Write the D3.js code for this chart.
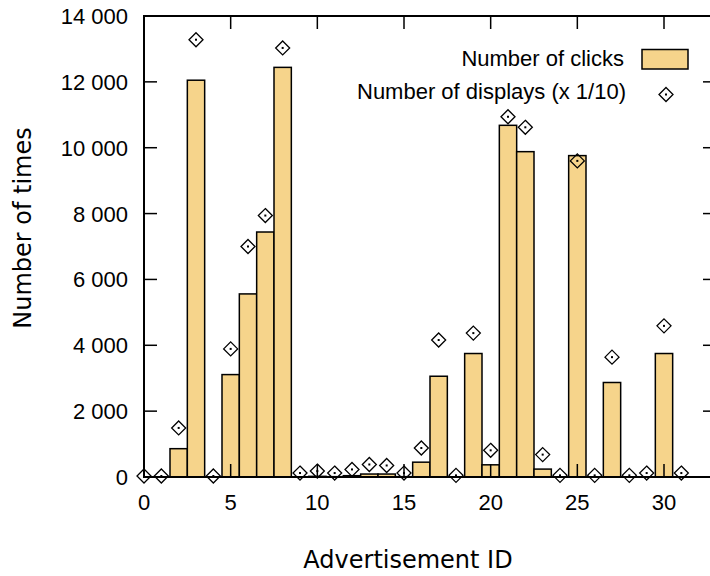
<!DOCTYPE html>
<html>
<head>
<meta charset="utf-8">
<script src="https://cdn.jsdelivr.net/npm/d3@7"></script>
<style>
    body { margin: 0; background: #fff; }
    svg { display: block; }
    .tick-label { font-family: "Liberation Sans", Arial, sans-serif; font-size: 22px; fill: #000; }
    .title { font-family: "DejaVu Sans", Verdana, sans-serif; font-size: 24px; fill: #000; }
</style>
</head>
<body>
<div class="svg_container"></div>
<script>
// advertisement ids 0..31
var adIds = d3.range(32);

// number of clicks per ad
var clicks = [0, 0, 860, 12050, 0, 3110, 5560, 7440, 12440, 0,
    20, 10, 40, 90, 90, 10, 450, 3060, 0, 3750,
    370, 10680, 9880, 240, 0, 9760, 0, 2870, 0, 0,
    3750, 0];

// number of displays, already divided by 10
var displays = [30, 30, 1490, 13280, 30, 3890, 7000, 7940, 13030, 120,
    180, 120, 230, 380, 350, 120, 880, 4160, 50, 4370,
    810, 10940, 10620, 680, 50, 9600, 50, 3640, 50, 120,
    4590, 120];

var xTicks = [0, 5, 10, 15, 20, 25, 30];
var yTicks = [0, 2000, 4000, 6000, 8000, 10000, 12000, 14000];

var legendLabels = ["Number of clicks", "Number of displays (x 1/10)"];

const WIDTH = 710;
const HEIGHT = 576;
const LEFT = 144;
const TOP = 16;
const RIGHT = 716;
const BOTTOM = 477;
const TICK = 13;
const BAR_COLOR = "#f6d48b";

var locale = d3.formatLocale({decimal: ".", thousands: " ", grouping: [3], currency: ["", ""]});
var fmt = locale.format(",d");

var x = d3.scaleLinear().domain([0, 33]).range([LEFT, RIGHT]);
var y = d3.scaleLinear().domain([0, 14000]).range([BOTTOM, TOP]);

var svg = d3.select(".svg_container").append("svg")
    .attr("width", WIDTH)
    .attr("height", HEIGHT);

// bars
svg.append("g").selectAll("rect")
    .data(adIds.filter(function (i) { return clicks[i] > 0; }))
    .enter().append("rect")
    .attr("x", function (i) { return x(i - 0.5); })
    .attr("width", function (i) { return x(i + 0.5) - x(i - 0.5); })
    .attr("y", function (i) { return y(clicks[i]); })
    .attr("height", function (i) { return BOTTOM - y(clicks[i]); })
    .attr("fill", BAR_COLOR)
    .attr("stroke", "#000")
    .attr("stroke-width", 1.5);

// frame and ticks
svg.append("rect")
    .attr("x", LEFT).attr("y", TOP)
    .attr("width", RIGHT - LEFT).attr("height", BOTTOM - TOP)
    .attr("fill", "none").attr("stroke", "#000").attr("stroke-width", 2);

var tickG = svg.append("g").attr("stroke", "#000").attr("stroke-width", 1.5);
xTicks.forEach(function (t) {
    tickG.append("line").attr("x1", x(t)).attr("x2", x(t)).attr("y1", BOTTOM).attr("y2", BOTTOM - TICK);
    tickG.append("line").attr("x1", x(t)).attr("x2", x(t)).attr("y1", TOP).attr("y2", TOP + TICK);
});
yTicks.forEach(function (t) {
    tickG.append("line").attr("x1", LEFT).attr("x2", LEFT + TICK).attr("y1", y(t)).attr("y2", y(t));
    tickG.append("line").attr("x1", RIGHT).attr("x2", RIGHT - TICK).attr("y1", y(t)).attr("y2", y(t));
});

svg.append("g").selectAll("text")
    .data(xTicks).enter().append("text")
    .attr("class", "tick-label")
    .attr("x", function (d) { return x(d); })
    .attr("y", 510)
    .attr("text-anchor", "middle")
    .text(function (d) { return d; });

svg.append("g").selectAll("text")
    .data(yTicks).enter().append("text")
    .attr("class", "tick-label")
    .attr("x", 128)
    .attr("y", function (d) { return y(d) + 8; })
    .attr("text-anchor", "end")
    .text(function (d) { return fmt(d); });

// diamond markers
var diamond = function (g, cx, cy) {
    var r = 7;
    g.append("path")
        .attr("d", "M" + cx + "," + (cy - r) + "L" + (cx + r) + "," + cy + "L" + cx + "," + (cy + r) + "L" + (cx - r) + "," + cy + "Z")
        .attr("fill", "none").attr("stroke", "#000").attr("stroke-width", 1.3);
    g.append("rect")
        .attr("x", cx - 1).attr("y", cy - 1).attr("width", 2).attr("height", 2)
        .attr("fill", "#000");
};

var markers = svg.append("g");
adIds.forEach(function (i) {
    diamond(markers, x(i), y(displays[i]));
});

// legend
svg.append("text").attr("class", "tick-label")
    .attr("x", 624).attr("y", 66).attr("text-anchor", "end")
    .text(legendLabels[0]);
svg.append("rect")
    .attr("x", 642).attr("y", 49.5).attr("width", 46).attr("height", 19.5)
    .attr("fill", BAR_COLOR).attr("stroke", "#000").attr("stroke-width", 1.5);
svg.append("text").attr("class", "tick-label")
    .attr("x", 626).attr("y", 99).attr("text-anchor", "end")
    .text(legendLabels[1]);
diamond(svg.append("g"), 666, 94.5);

// axis titles
svg.append("text").attr("class", "title")
    .attr("transform", "translate(31,228) rotate(-90)")
    .attr("text-anchor", "middle")
    .text("Number of times");
svg.append("text").attr("class", "title")
    .attr("x", 408).attr("y", 568)
    .attr("text-anchor", "middle")
    .text("Advertisement ID");
</script>
</body>
</html>
